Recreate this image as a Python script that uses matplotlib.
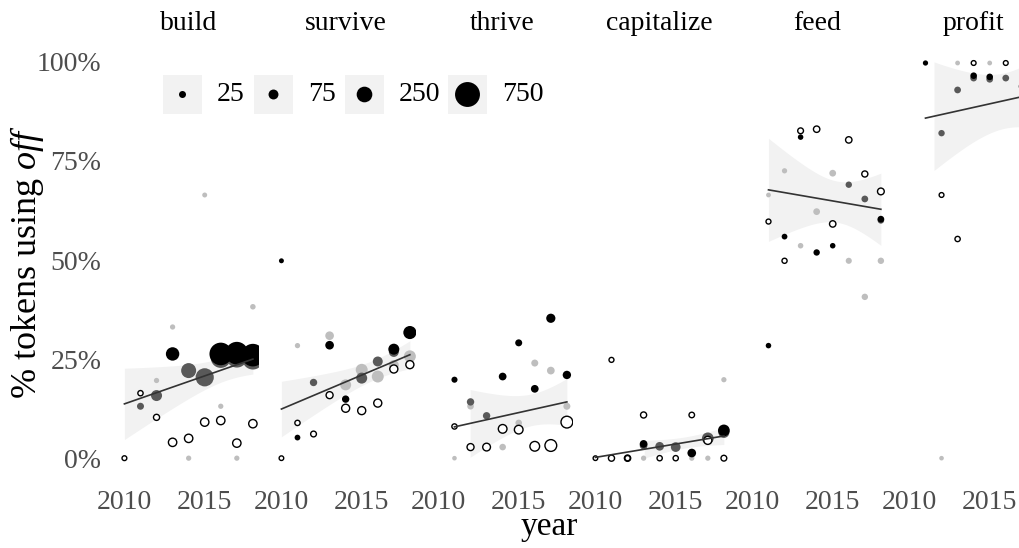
import numpy as np
import matplotlib
matplotlib.use("Agg")
import matplotlib.pyplot as plt
from matplotlib.patches import Rectangle

plt.rcParams["font.family"] = "Liberation Serif"
plt.rcParams["mathtext.fontset"] = "custom"
plt.rcParams["mathtext.rm"] = "Liberation Serif"
plt.rcParams["mathtext.it"] = "Liberation Serif:italic"

verbs = ["build", "survive", "thrive", "capitalize", "feed", "profit"]

# (year, % of tokens using "off", number of tokens, source)
build = [
    (2010, 0.0, 5, "o"), (2011, 16.4, 8, "o"), (2011, 13.1, 25, "d"),
    (2012, 19.6, 8, "l"), (2012, 15.8, 100, "d"), (2012, 10.3, 15, "o"),
    (2013, 33.1, 8, "l"), (2013, 26.3, 170, "k"), (2013, 4.0, 45, "o"),
    (2014, 22.1, 225, "d"), (2014, 5.0, 45, "o"), (2014, 0.0, 8, "l"),
    (2015, 66.4, 6, "l"), (2015, 20.4, 360, "d"), (2015, 9.1, 45, "o"),
    (2016, 26.3, 600, "k"), (2016, 25.3, 450, "d"), (2016, 13.1, 8, "l"), (2016, 9.5, 45, "o"),
    (2017, 26.5, 600, "k"), (2017, 25.5, 500, "d"), (2017, 3.8, 45, "o"), (2017, 0.0, 8, "l"),
    (2018, 38.2, 10, "l"), (2018, 26.0, 600, "k"), (2018, 25.0, 500, "d"), (2018, 8.7, 45, "o"),
]
survive = [
    (2010, 49.8, 6, "k"), (2010, 0.0, 4, "o"),
    (2011, 28.4, 8, "l"), (2011, 8.9, 8, "o"), (2011, 5.2, 12, "k"),
    (2012, 19.1, 30, "d"), (2012, 6.1, 12, "o"),
    (2013, 30.9, 50, "l"), (2013, 28.5, 50, "k"), (2013, 15.9, 25, "o"),
    (2014, 18.5, 100, "l"), (2014, 14.9, 30, "k"), (2014, 12.6, 40, "o"),
    (2015, 22.3, 125, "l"), (2015, 20.2, 100, "d"), (2015, 12.0, 40, "o"),
    (2016, 24.4, 75, "d"), (2016, 20.6, 125, "l"), (2016, 13.9, 40, "o"),
    (2017, 27.5, 100, "k"), (2017, 26.8, 75, "d"), (2017, 23.5, 75, "l"), (2017, 22.5, 40, "o"),
    (2018, 31.7, 160, "k"), (2018, 25.7, 125, "l"), (2018, 23.6, 40, "o"),
]
thrive = [
    (2011, 19.8, 15, "k"), (2011, 8.0, 8, "o"), (2011, 0.0, 4, "l"),
    (2012, 14.2, 30, "d"), (2012, 13.1, 20, "l"), (2012, 2.8, 25, "o"),
    (2013, 10.7, 30, "d"), (2013, 2.8, 35, "o"),
    (2014, 20.6, 35, "k"), (2014, 7.4, 50, "o"), (2014, 2.8, 20, "l"),
    (2015, 29.1, 25, "k"), (2015, 8.9, 20, "l"), (2015, 7.2, 50, "o"),
    (2016, 24.0, 25, "l"), (2016, 17.5, 35, "k"), (2016, 3.0, 70, "o"),
    (2017, 35.3, 60, "k"), (2017, 22.1, 35, "l"), (2017, 3.2, 120, "o"),
    (2018, 21.0, 45, "k"), (2018, 13.1, 25, "l"), (2018, 9.1, 120, "o"),
]
capitalize = [
    (2010, 0.0, 4, "o"), (2011, 24.8, 6, "o"), (2011, 0.0, 15, "o"),
    (2012, 0.0, 35, "k"), (2012, 0.0, 8, "o"),
    (2013, 10.9, 15, "o"), (2013, 3.6, 35, "k"), (2013, 3.2, 35, "d"), (2013, 0.0, 8, "l"),
    (2014, 3.0, 50, "d"), (2014, 0.0, 8, "o"),
    (2015, 2.8, 70, "d"), (2015, 0.0, 8, "o"),
    (2016, 10.9, 10, "o"), (2016, 1.3, 50, "k"), (2016, 0.0, 8, "l"),
    (2017, 5.0, 120, "d"), (2017, 4.5, 40, "o"), (2017, 0.0, 8, "l"),
    (2018, 19.8, 8, "l"), (2018, 7.0, 120, "k"), (2018, 6.5, 100, "d"), (2018, 0.0, 12, "o"),
]
feed = [
    (2011, 66.4, 5, "l"), (2011, 59.7, 6, "o"), (2011, 28.4, 10, "k"),
    (2012, 72.5, 8, "l"), (2012, 55.9, 12, "k"), (2012, 49.8, 7, "o"),
    (2013, 82.6, 12, "o"), (2013, 81.0, 10, "k"), (2013, 53.6, 10, "l"),
    (2014, 83.0, 18, "o"), (2014, 62.2, 22, "l"), (2014, 51.9, 18, "k"),
    (2015, 71.9, 22, "l"), (2015, 59.1, 18, "o"), (2015, 53.6, 10, "k"),
    (2016, 80.3, 18, "o"), (2016, 69.0, 18, "d"), (2016, 49.8, 15, "l"),
    (2017, 71.7, 15, "o"), (2017, 65.4, 22, "d"), (2017, 40.7, 18, "l"),
    (2018, 67.3, 22, "o"), (2018, 60.3, 22, "k"), (2018, 60.0, 20, "d"), (2018, 49.8, 18, "l"),
]
profit = [
    (2011, 99.7, 8, "k"),
    (2012, 82.0, 18, "d"), (2012, 66.4, 5, "o"), (2012, 0.0, 4, "l"),
    (2013, 99.7, 5, "l"), (2013, 92.9, 22, "d"), (2013, 55.3, 8, "o"),
    (2014, 99.7, 5, "o"), (2014, 96.5, 20, "k"), (2014, 95.9, 22, "d"),
    (2015, 99.7, 5, "l"), (2015, 96.2, 20, "k"), (2015, 95.6, 22, "d"),
    (2016, 99.7, 5, "o"), (2016, 95.9, 22, "d"),
    (2017, 99.7, 5, "l"), (2017, 93.8, 20, "d"),
]
panels = [build, survive, thrive, capitalize, feed, profit]

# linear fit per verb: year range, fitted % at both ends,
# and confidence band (centre year, min half-width, curvature)
fit_years = [(2010, 2018), (2010, 2018), (2011, 2018), (2010, 2018), (2011, 2018), (2011, 2018)]
fit_ends = [(13.7, 25.0), (12.4, 26.1), (7.9, 14.2), (0.2, 5.6), (67.7, 62.8), (85.8, 92.1)]
band_centre = [2016.3, 2015.8, 2015.8, 2015.6, 2015.3, 2015.9]
band_min = [3.0, 2.5, 4.0, 1.4, 5.2, 7.0]
band_curve = [1.81, 1.27, 3.9, 0.46, 7.68, 7.26]

legend_n = [25, 75, 250, 750]

fills = {"l": "#BEBEBE", "d": "#595959", "k": "black", "o": "white"}
draw_order = ["l", "d", "k", "o"]


def marker_area(n):
    d_px = 3 + 0.8 * np.sqrt(np.asarray(n, dtype=float))
    return (d_px * 0.72) ** 2


W, H = 1019, 548
fig = plt.figure(figsize=(W / 100, H / 100), dpi=100)

for i, (verb, rows) in enumerate(zip(verbs, panels)):
    left = 118 + 157 * i
    ax = fig.add_axes([left / W, 1 - 478 / H, 141.3 / W, 436 / H])
    ax.set_xlim(2009.6, 2018.4)
    ax.set_ylim(-5, 105)

    # smooth: line + censored ribbon
    x0, x1 = fit_years[i]
    y0, y1 = fit_ends[i]
    g = np.linspace(x0, x1, 80)
    fit = y0 + (y1 - y0) * (g - x0) / (x1 - x0)
    hw = np.sqrt(band_min[i] ** 2 + band_curve[i] * (g - band_centre[i]) ** 2)
    lo, hi = fit - hw, fit + hw
    ok = (lo >= 0) & (hi <= 100)
    ax.fill_between(g, lo, hi, where=ok, color="#F2F2F2", lw=0, zorder=1)

    yr = np.array([r[0] for r in rows], dtype=float)
    pc = np.array([r[1] for r in rows])
    nn = np.array([r[2] for r in rows])
    src = np.array([r[3] for r in rows])
    for s in draw_order:
        m = src == s
        if not m.any():
            continue
        if s == "o":
            ax.scatter(yr[m], pc[m], s=marker_area(nn[m]), facecolor="white",
                       edgecolor="black", linewidth=1.0, zorder=2)
        else:
            ax.scatter(yr[m], pc[m], s=marker_area(nn[m]), color=fills[s],
                       linewidth=0, zorder=2)

    ax.plot(g, fit, color="#333333", lw=1.2, zorder=3)

    ax.set_title(verb, fontsize=20, pad=8.6)
    for sp in ax.spines.values():
        sp.set_visible(False)
    ax.set_xticks([2010, 2015])
    ax.set_yticks([0, 25, 50, 75, 100])
    ax.tick_params(length=0, labelsize=20, labelcolor="#4D4D4D")
    ax.tick_params(axis="x", pad=8.6)
    ax.tick_params(axis="y", pad=12)
    if i == 0:
        ax.set_yticklabels(["0%", "25%", "50%", "75%", "100%"])
    else:
        ax.set_yticklabels([])
    ax.patch.set_visible(False)

# size legend
lax = fig.add_axes([0, 0, 1, 1])
lax.set_xlim(0, W)
lax.set_ylim(H, 0)
lax.axis("off")
key_x = [163, 254, 345, 448]
for kx, n in zip(key_x, legend_n):
    lax.add_patch(Rectangle((kx, 75), 39, 38.5, color="#F2F2F2", lw=0))
    lax.scatter([kx + 19.5], [94.25], s=marker_area(n), color="black", lw=0)
    lax.text(kx + 54, 94.5, str(n), fontsize=20, va="center", ha="left")

fig.text(27 / W, 1 - 262 / H, r"% tokens using $\mathit{off}$", rotation=90,
         fontsize=26, ha="center", va="center")
fig.text(549 / W, 1 - 527 / H, "year", fontsize=24, ha="center", va="center")

fig.savefig("out.png", dpi=100)
